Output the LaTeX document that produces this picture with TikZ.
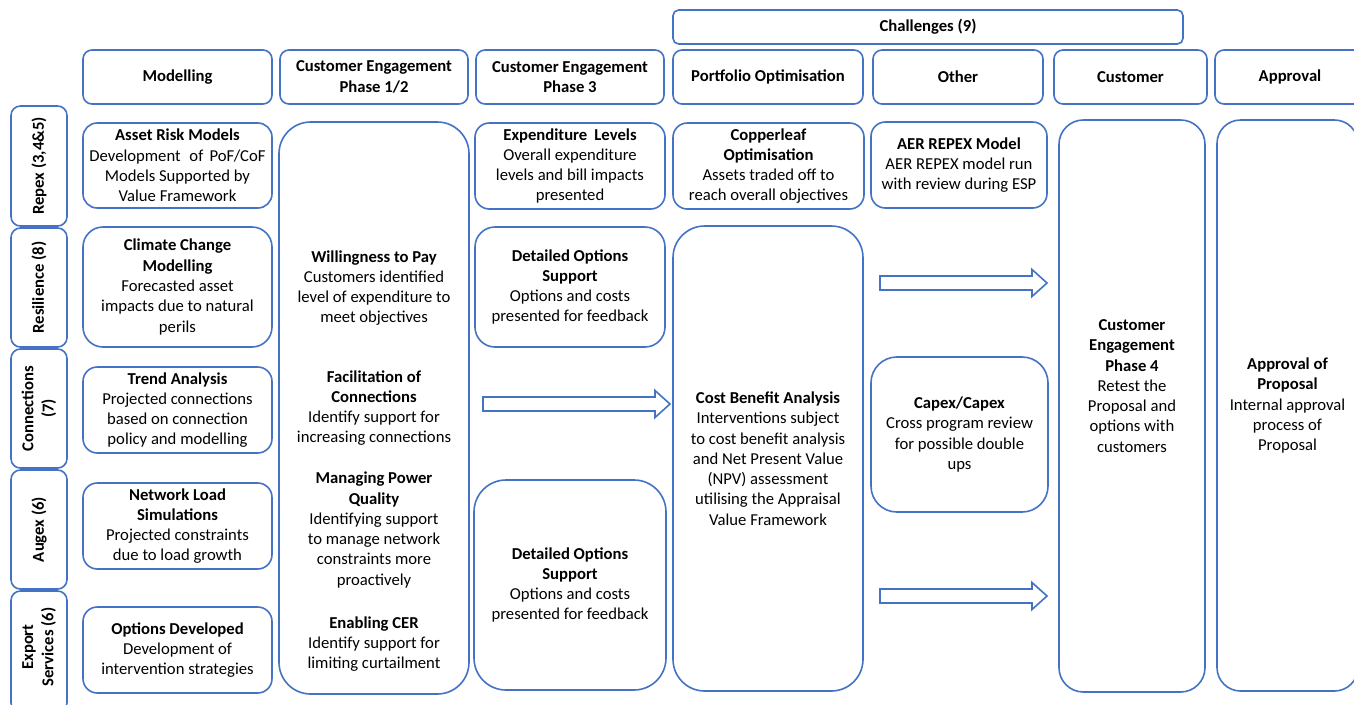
\documentclass[tikz,border=0pt]{standalone}
\usepackage{fontspec}
\setmainfont{Carlito}
\usetikzlibrary{calc}
\definecolor{edge}{HTML}{4472C4}
\newcommand\bodyfont{\fontsize{12.5}{15.2}\selectfont}
% rounded box from (x1,y1) to (x2,y2) in pixel units, corner radius = 1/6 of the shorter side
\newcommand\cellbox[6]{%
  \pgfmathsetmacro\cellw{(#4-#2)*0.75}%
  \pgfmathsetmacro\cellh{(#5-#3)*0.75}%
  \pgfmathsetmacro\cellrad{min(\cellw,\cellh)/6}%
  \node[cell, minimum width=\cellw pt, minimum height=\cellh pt, rounded corners=\cellrad pt]
    (#1) at ({(#2+#4)/2},{(#3+#5)/2}) {#6};}
% hollow block arrow between two coordinates on the same horizontal line
\newcommand\blockarrow[2]{%
  \draw[blockarrow] ($(#1)+(0,-7)$) -- ($(#2)+(-15,-7)$) -- ($(#2)+(-15,-13.5)$) -- (#2)
    -- ($(#2)+(-15,13.5)$) -- ($(#2)+(-15,7)$) -- ($(#1)+(0,7)$) -- cycle;}
\begin{document}
\begin{tikzpicture}[x=0.75pt,y=-0.75pt,
  cell/.style={draw=edge, line width=1.2pt, fill=white, align=center, inner sep=0pt, font=\bodyfont},
  txt/.style={align=center, inner sep=0pt, font=\bodyfont},
  rowtxt/.style={txt, rotate=90},
  blockarrow/.style={draw=edge, line width=1.2pt, line join=miter, fill=white}]
\useasboundingbox (0,0) rectangle (1354,704);

% column headers
\cellbox{hChal}{673}{10}{1183}{44}{\textbf{Challenges (9)}}
\cellbox{hMod}{83}{50}{272}{104}{\textbf{Modelling}}
\cellbox{hCEa}{280}{50}{468}{104}{\textbf{Customer Engagement}\\\textbf{Phase 1/2}}
\cellbox{hCEb}{476}{50}{664}{104}{\textbf{Customer Engagement}\\\textbf{Phase 3}}
\cellbox{hPort}{673}{50}{863}{104}{\textbf{Portfolio Optimisation}}
\cellbox{hOther}{873}{50}{1043}{104}{\textbf{Other}}
\cellbox{hCust}{1054}{50}{1207}{104}{\textbf{Customer}}
\cellbox{hAppr}{1215}{50}{1365}{104}{\textbf{Approval}}

% row labels
\cellbox{rRepex}{11}{106}{67}{226}{}
\cellbox{rRes}{11}{228}{67}{347}{}
\cellbox{rConn}{11}{349}{67}{468}{}
\cellbox{rAug}{11}{470}{67}{589}{}
\cellbox{rExp}{11}{591}{67}{712}{}
\node[rowtxt] (tRepex) at (rRepex) {\textbf{Repex (3,4\&5)}};
\node[rowtxt] (tRes) at (rRes) {\textbf{Resilience (8)}};
\node[rowtxt] (tConn) at (rConn) {\textbf{Connections}\\\textbf{(7)}};
\node[rowtxt] (tAug) at (rAug) {\textbf{Augex (6)}};
\node[rowtxt] (tExp) at (39,647) {\textbf{Export}\\\textbf{Services (6)}};

% modelling column
\cellbox{mAsset}{83}{123}{272}{208}{\textbf{Asset Risk Models}\\Development\hspace{0.3em} of\hspace{0.15em} PoF/CoF\\Models Supported by\\Value Framework}
\cellbox{mClim}{83}{227}{272}{347}{\textbf{Climate Change}\\\textbf{Modelling}\\Forecasted asset\\impacts due to natural\\perils}
\cellbox{mTrend}{83}{367}{272}{453}{\textbf{Trend Analysis}\\Projected connections\\based on connection\\policy and modelling}
\cellbox{mNet}{83}{483}{272}{569}{\textbf{Network Load}\\\textbf{Simulations}\\Projected constraints\\due to load growth}
\cellbox{mOpt}{83}{607}{272}{693}{\textbf{Options Developed}\\Development of\\intervention strategies}

% customer engagement phase 1/2
\cellbox{ceA}{279}{122}{469}{694}{}
\node[txt] (ceWill) at (374,288) {\textbf{Willingness to Pay}\\Customers identified\\level of expenditure to\\meet objectives};
\node[txt] (ceFac) at (374,408) {\textbf{Facilitation of}\\\textbf{Connections}\\Identify support for\\increasing connections};
\node[txt] (cePow) at (374,530) {\textbf{Managing Power}\\\textbf{Quality}\\Identifying support\\to manage network\\constraints more\\proactively};
\node[txt] (ceCER) at (374,644) {\textbf{Enabling CER}\\Identify support for\\limiting curtailment};

% customer engagement phase 3
\cellbox{eExp}{475}{123}{665}{209}{\textbf{Expenditure\hspace{0.2em} Levels}\\Overall expenditure\\levels and bill impacts\\presented}
\cellbox{eDetA}{475}{227}{665}{347}{\textbf{Detailed Options}\\\textbf{Support}\\Options and costs\\presented for feedback}
\cellbox{eDetB}{474}{480}{666}{690}{\textbf{Detailed Options}\\\textbf{Support}\\Options and costs\\presented for feedback}

% portfolio optimisation
\cellbox{pCop}{673}{123}{864}{209}{\textbf{Copperleaf}\\\textbf{Optimisation}\\Assets traded off to\\reach overall objectives}
\cellbox{pCBA}{673}{226}{863}{691}{\textbf{Cost Benefit Analysis}\\Interventions subject\\to cost benefit analysis\\and Net Present Value\\(NPV) assessment\\utilising the Appraisal\\Value Framework}

% other
\cellbox{oAER}{871}{122}{1047}{208}{\textbf{AER REPEX Model}\\AER REPEX model run\\with review during ESP}
\cellbox{oCap}{871}{357}{1048}{512}{\textbf{Capex/Capex}\\Cross program review\\for possible double\\ups}

% customer and approval
\cellbox{cPh4}{1059}{120}{1205}{692}{}
\node[txt] (cPh4t) at (1132,386) {\textbf{Customer}\\\textbf{Engagement}\\\textbf{Phase 4}\\Retest the\\Proposal and\\options with\\customers};
\cellbox{aApp}{1217}{120}{1358}{691}{\textbf{Approval of}\\\textbf{Proposal}\\Internal approval\\process of\\Proposal}

% flow arrows
\coordinate (aAs) at (483,404);
\coordinate (aAe) at (670,404);
\coordinate (aBs) at (880,283);
\coordinate (aBe) at (1047,283);
\coordinate (aCs) at (880,596);
\coordinate (aCe) at (1047,596);
\blockarrow{aAs}{aAe}
\blockarrow{aBs}{aBe}
\blockarrow{aCs}{aCe}
\end{tikzpicture}
\end{document}
